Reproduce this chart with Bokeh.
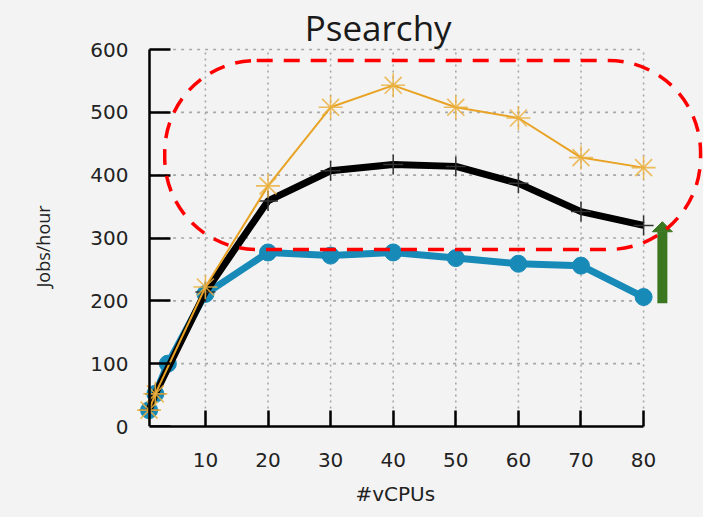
from bokeh.plotting import figure
from bokeh.models import Range1d, FixedTicker, Label, BoxAnnotation, LinearAxis, Title
from bokeh.embed import file_html
from bokeh.resources import INLINE

# ---- data ----
title_text = "Psearchy"
x_label = "#vCPUs"
y_label = "Jobs/hour"

x_ticks = [10, 20, 30, 40, 50, 60, 70, 80]
y_ticks = [0, 100, 200, 300, 400, 500, 600]

blue_x = [1, 2, 4, 10, 20, 30, 40, 50, 60, 70, 80]
blue_y = [26, 52, 100, 211, 277, 272, 277, 268, 259, 256, 206]

black_x = [1, 2, 10, 20, 30, 40, 50, 60, 70, 80]
black_y = [26, 52, 214, 359, 407, 417, 414, 387, 342, 320]

orange_x = [1, 2, 10, 20, 30, 40, 50, 60, 70, 80]
orange_y = [26, 52, 222, 383, 508, 543, 508, 491, 428, 412]

# annotation geometry (data units)
box_left, box_right, box_top, box_bottom = 3.5, 89.1, 582.5, 281.7
arrow_x, arrow_y0, arrow_base, arrow_tip = 83.0, 196.0, 310.0, 326.0
arrow_half = 1.6

BG = "#f3f3f3"
BLUE = "#178ab8"
ORANGE = "#e8a325"
GREEN = "#3b7620"

p = figure(width=703, height=517, output_backend="svg", toolbar_location=None,
           x_range=Range1d(-1.647, 89.57), y_range=Range1d(0, 678.0),
           min_border_left=131, min_border_right=0, min_border_top=0, min_border_bottom=91)
p.background_fill_color = BG
p.border_fill_color = BG
p.outline_line_color = None
p.xgrid.visible = False
p.ygrid.visible = False

# dotted grid restricted to the axis extent
p.segment(x0=x_ticks, y0=[y_ticks[0]] * len(x_ticks), x1=x_ticks, y1=[y_ticks[-1]] * len(x_ticks),
          line_color="#a8a8a8", line_width=1.6, line_dash="2 4")
gy = y_ticks[1:]
p.segment(x0=[1] * len(gy), y0=gy, x1=[x_ticks[-1]] * len(gy), y1=gy,
          line_color="#a8a8a8", line_width=1.6, line_dash="3 5")

# series
p.line(blue_x, blue_y, line_color=BLUE, line_width=7)
p.scatter(blue_x, blue_y, marker="circle", size=17, fill_color=BLUE, line_color=BLUE)

p.line(black_x, black_y, line_color="black", line_width=7)
p.scatter(black_x, black_y, marker="cross", size=20, line_color="#333333", line_width=1.5)

p.line(orange_x, orange_y, line_color=ORANGE, line_width=2)
p.scatter(orange_x, orange_y, marker="asterisk", size=24, line_color="#eab040",
          line_width=1.6, line_alpha=0.85)

# red dashed rounded box
box = BoxAnnotation(left=box_left, right=box_right, top=box_top, bottom=box_bottom,
                    fill_color=None, fill_alpha=0, line_color="#ff0000", line_alpha=1.0,
                    line_width=3.5, line_dash="16 11", border_radius=92)
p.add_layout(box)

# green arrow
p.segment(x0=[arrow_x], y0=[arrow_y0], x1=[arrow_x], y1=[arrow_base],
          line_color=GREEN, line_width=10, line_cap="butt")
p.patch([arrow_x - arrow_half, arrow_x + arrow_half, arrow_x],
        [arrow_base, arrow_base, arrow_tip], fill_color=GREEN, line_color=GREEN)

# x axis
xa = p.xaxis[0]
xa.ticker = FixedTicker(ticks=x_ticks)
xa.bounds = (1, 80)
xa.axis_line_color = "black"
xa.axis_line_width = 2.5
xa.major_tick_line_color = "black"
xa.major_tick_line_width = 2.5
xa.major_tick_out = 0
xa.major_tick_in = 16
xa.minor_tick_line_color = None
xa.major_label_text_font = "DejaVu Sans"
xa.major_label_text_font_size = "20px"
xa.major_label_text_color = "#222222"
xa.major_label_standoff = 26

# y axis: labels on the frame-edge axis
ya = p.yaxis[0]
ya.ticker = FixedTicker(ticks=y_ticks)
ya.bounds = (0, 600)
ya.axis_line_color = None
ya.major_tick_line_color = None
ya.minor_tick_line_color = None
ya.major_tick_out = 0
ya.major_tick_in = 0
ya.major_label_text_font = "DejaVu Sans"
ya.major_label_text_font_size = "20px"
ya.major_label_text_color = "#222222"
ya.major_label_standoff = 4

# y axis line + inward ticks fixed at x = 1 (no labels of its own)
yline = LinearAxis(fixed_location=1, ticker=FixedTicker(ticks=y_ticks), bounds=(0, 600),
                   axis_line_color="black", axis_line_width=2.5,
                   major_tick_line_color="black", major_tick_line_width=2.5,
                   major_tick_in=21, major_tick_out=0, minor_tick_line_color=None,
                   major_label_text_font_size="0px", major_label_text_color=None,
                   major_label_standoff=0)
p.add_layout(yline, "left")

# axis titles as side titles (placed precisely with offsets)
p.add_layout(Title(text=x_label, align="left", offset=223, standoff=21,
                   vertical_align="bottom", text_font="DejaVu Sans",
                   text_font_size="20px", text_font_style="normal",
                   text_color="#222222"), "below")
p.add_layout(Title(text=y_label, align="left", offset=139, standoff=61,
                   vertical_align="top", text_font="Open Sans",
                   text_font_size="18px", text_font_style="normal",
                   text_color="#222222"), "left")

# chart title
p.add_layout(Label(x=37.6, y=635, text=title_text, text_align="center",
                   text_baseline="middle", text_font="Open Sans",
                   text_font_size="35px", text_color="#1a1a1a"))

html = file_html(p, INLINE)
html = html.replace("<head>", "<head><style>body{background:#f3f3f3;}</style>", 1)
open("out.html", "w").write(html)
